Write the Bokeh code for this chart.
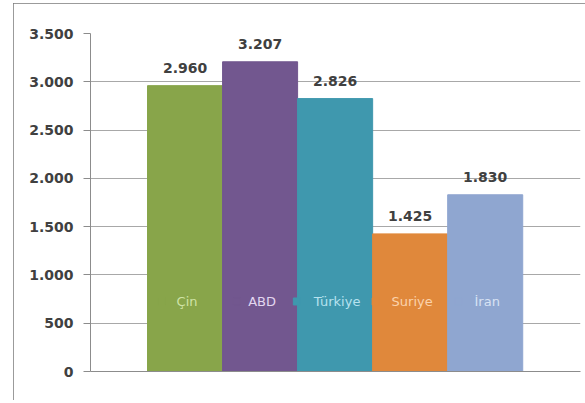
from bokeh.plotting import figure
from bokeh.models import ColumnDataSource, LabelSet, FixedTicker, Range1d
from bokeh.core.properties import value
from bokeh.embed import file_html
from bokeh.resources import INLINE
import numpy as np

# ---- data ----
countries = ["Çin", "ABD", "Türkiye", "Suriye", "İran"]
values = [2960, 3207, 2826, 1425, 1830]
colors = ["#88a54a", "#72578f", "#3f98ae", "#e0883b", "#8fa6d0"]
label_colors = ["#cfe3a6", "#e2d6f0", "#b6e2ef", "#fbd3ac", "#d8e2f4"]
y_ticks = [0, 500, 1000, 1500, 2000, 2500, 3000, 3500]

def tr(n):
    return f"{n:,}".replace(",", ".")

idx = np.arange(len(countries))
LABEL_Y = 725
BAR_PX = 75.0
est_w = np.array([len(c) for c in countries]) * 7.5
src = ColumnDataSource(dict(
    x=idx, top=values, color=colors, name=countries, lc=label_colors,
    vlab=[tr(v) for v in values],
    ly=[LABEL_Y] * len(values),
    kx=idx + (2 - est_w / 2 - 14) / BAR_PX,
))

FONT = "DejaVu Sans"

p = figure(width=572, height=397, output_backend="svg", toolbar_location=None,
           x_range=Range1d(-1.26, 5.27), y_range=Range1d(0, 3500),
           min_border_left=77, min_border_top=30, min_border_bottom=29, min_border_right=5,
           styles={"margin-left": "13px", "margin-top": "3px",
                   "outline": "2px solid #7a7a7a", "outline-offset": "-2px"})
p.outline_line_color = None
p.background_fill_color = "white"
p.border_fill_color = "white"

p.vbar(x="x", top="top", bottom=0, width=1.0, color="color", source=src)

# legend keys + category labels inside bars
p.scatter(x="kx", y="ly", marker="square", size=7, color="color", source=src)
p.text(x="x", y="ly", text="name", text_color="lc", text_align="center", text_baseline="middle",
       x_offset=2, text_font=value(FONT), text_font_size="13px", source=src)

labels = LabelSet(x="x", y="top", text="vlab", source=src, text_align="center",
                  text_baseline="middle", y_offset=18, text_font=value(FONT),
                  text_font_size="14px", text_color="#404040", text_font_style="bold")
p.add_layout(labels)

# axes
p.xaxis.ticker = FixedTicker(ticks=[])
p.xaxis.major_tick_line_color = None
p.xaxis.minor_tick_line_color = None
p.xaxis.axis_line_color = "#8c8c8c"
p.xgrid.grid_line_color = None

p.yaxis.ticker = FixedTicker(ticks=y_ticks)
p.yaxis.major_label_overrides = {t: tr(t) for t in y_ticks}
p.yaxis.minor_tick_line_color = None
p.yaxis.major_tick_in = 0
p.yaxis.major_tick_out = 7
p.yaxis.major_tick_line_color = "#8c8c8c"
p.yaxis.axis_line_color = "#8c8c8c"
p.yaxis.major_label_standoff = 10
p.yaxis.major_label_text_font = FONT
p.yaxis.major_label_text_font_size = "14px"
p.yaxis.major_label_text_font_style = "bold"
p.yaxis.major_label_text_color = "#404040"
p.ygrid.grid_line_color = "#a8a8a8"
p.ygrid.grid_line_width = 1

open("out.html", "w").write(file_html(p, INLINE))
